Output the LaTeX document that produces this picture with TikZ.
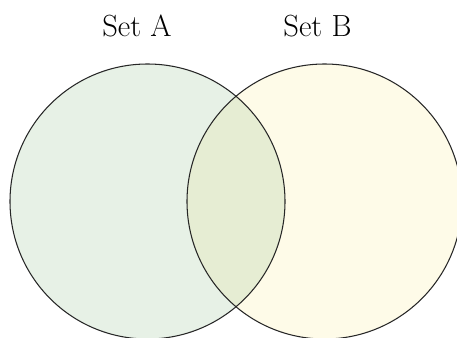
\documentclass[tikz,border=0pt]{standalone}
\usepackage{tikz}
\usetikzlibrary{positioning}
\definecolor{setAfill}{HTML}{E7F1E6}
\definecolor{setBfill}{HTML}{FEFBE8}
\definecolor{bothfill}{HTML}{E6EDD3}

\begin{document}
\begin{tikzpicture}[x = 0.02cm , y = -0.02cm]
    \useasboundingbox (0,0) rectangle (457,338);
    \tikzset{setlabel/.style = {font=\fontsize{17.4}{20}\selectfont , inner sep=0pt , anchor=base}}
    \coordinate (cA) at (147.5,201.5); % Κεντρο A
    \coordinate (cB) at (324.5,201.5); % Κεντρο B
    \fill[setAfill] (cA) circle (137.5);
    \fill[setBfill] (cB) circle (137.5);
    \begin{scope}
        \clip (cA) circle (137.5);
        \fill[bothfill] (cB) circle (137.5); % Τομη
    \end{scope}
    \draw[line width = 0.6pt , black!85] (cA) circle (137.5);
    \draw[line width = 0.6pt , black!85] (cB) circle (137.5);
    \node[setlabel] (labA) at (137,36) {Set A}; % Ετικετα
    \node[setlabel] (labB) at (317.5,36) {Set B}; % Ετικετα
\end{tikzpicture}
\end{document}
